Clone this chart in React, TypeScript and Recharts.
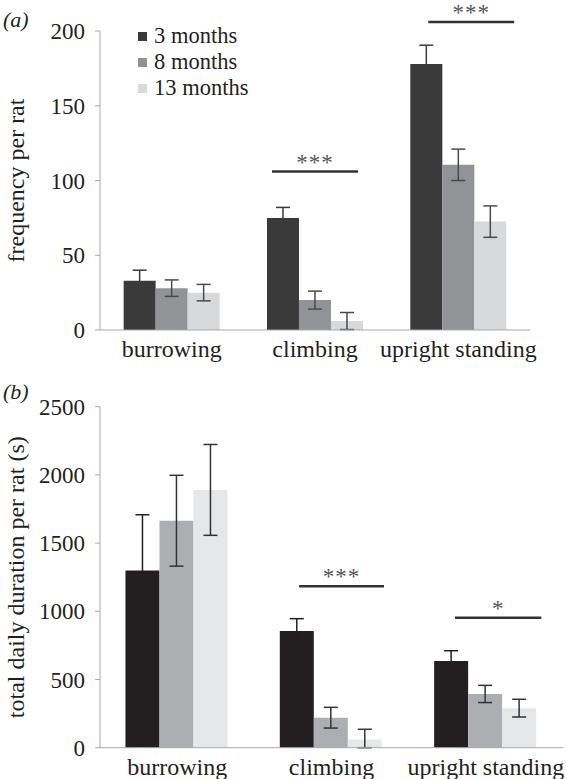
import React from "react";
import {
  BarChart,
  Bar,
  XAxis,
  YAxis,
  Legend,
  ErrorBar,
  ReferenceLine,
} from "recharts";

const categories = ["burrowing", "climbing", "upright standing"];

// (a) frequency per rat
const freq3 = [33, 75, 178];
const freq3Err = [7, 7, 12.5];
const freq8 = [28, 20, 110.5];
const freq8Err = [5.5, 6, 10.5];
const freq13 = [25, 6, 72.5];
const freq13Err = [5.5, 5.7, 10.5];

// (b) total daily duration per rat (s)
const dur3 = [1300, 855, 636];
const dur3Err = [408, 91, 75];
const dur8 = [1664, 220, 394];
const dur8Err = [333, 76, 63];
const dur13 = [1890, 61, 290];
const dur13Err = [333, 74, 65];

const freqTicks = [0, 50, 100, 150, 200];
const durTicks = [0, 500, 1000, 1500, 2000, 2500];

// significance bars: [from, to] in category units, height, label
const freqSig = [
  { x1: 1.2, x2: 1.8, y: 106, label: "***" },
  { x1: 2.29, x2: 2.89, y: 206, label: "***" },
];
const durSig = [
  { x1: 1.29, x2: 1.84, y: 1183, label: "***" },
  { x1: 2.3, x2: 2.86, y: 953, label: "*" },
];

const seriesNames = ["3 months", "8 months", "13 months"];

const buildRows = (vals: number[][], errs: number[][]) =>
  categories.map((cat, i) => {
    const row: any = { cat, pos: i + 0.5 };
    vals.forEach((v, k) => {
      row["s" + k] = v[i];
      row["e" + k] = [Math.min(errs[k][i], v[i]), errs[k][i]];
    });
    return row;
  });

const freqRows = buildRows([freq3, freq8, freq13], [freq3Err, freq8Err, freq13Err]);
const durRows = buildRows([dur3, dur8, dur13], [dur3Err, dur8Err, dur13Err]);

const FONT = "Liberation Serif";
const AXIS = "#a7a9ac";
const TEXT = "#231f20";

const LegendBox = ({ colors }: { colors: string[] }) => (
  <div style={{ fontFamily: FONT, fontSize: 22.5, lineHeight: "26px", color: TEXT }}>
    {seriesNames.map((n, k) => (
      <div key={n} style={{ display: "flex", alignItems: "center", whiteSpace: "nowrap" }}>
        <span style={{ width: 9, height: 9, background: colors[k], marginRight: 7, display: "inline-block" }} />
        {n}
      </div>
    ))}
  </div>
);

type PanelProps = {
  rows: any[];
  colors: string[];
  ticks: number[];
  yLabel: string;
  sig: { x1: number; x2: number; y: number; label: string }[];
  height: number;
  margin: any;
  xHeight: number;
  errColor: string;
  legend?: boolean;
};

const Panel = ({ rows, colors, ticks, yLabel, sig, height, margin, xHeight, errColor, legend }: PanelProps) => (
  <BarChart
    width={566}
    height={height}
    data={rows}
    margin={margin}
    barGap={0}
    barCategoryGap="16.5%"
    style={{ fontFamily: FONT }}
  >
    {/* numeric helper axis: category boundary ticks + significance bars */}
    <XAxis
      xAxisId={0}
      dataKey="pos"
      type="number"
      domain={[0, 3]}
      allowDataOverflow
      ticks={[0, 1, 2, 3]}
      tick={false}
      axisLine={false}
      tickLine={{ stroke: AXIS }}
      tickSize={5}
      height={0}
    />
    <XAxis
      xAxisId="cat"
      dataKey="cat"
      interval={0}
      height={xHeight}
      tickLine={false}
      tickMargin={4}
      axisLine={{ stroke: AXIS }}
      tick={{ fontSize: 24, fill: TEXT, fontFamily: FONT }}
    />
    <YAxis
      width={100}
      domain={[ticks[0], ticks[ticks.length - 1]]}
      ticks={ticks}
      interval={0}
      tickSize={5}
      tickMargin={10}
      axisLine={{ stroke: AXIS }}
      tickLine={{ stroke: AXIS }}
      tick={{ fontSize: 23, fill: TEXT, fontFamily: FONT }}
      label={{
        value: yLabel,
        angle: -90,
        position: "insideLeft",
        offset: 15,
        style: { textAnchor: "middle", fontSize: 24, fill: TEXT, fontFamily: FONT },
      }}
    />
    {legend && (
      <Legend
        layout="vertical"
        align="center"
        verticalAlign="middle"
        wrapperStyle={{ top: 23, left: 138, width: "auto" }}
        content={() => <LegendBox colors={colors} />}
      />
    )}
    {colors.map((c, k) => (
      <Bar
        key={k}
        xAxisId="cat"
        dataKey={"s" + k}
        name={seriesNames[k]}
        fill={c}
        isAnimationActive={false}
      >
        <ErrorBar
          dataKey={"e" + k}
          width={7}
          stroke={k === 0 ? c : errColor}
          strokeWidth={1.5}
          direction="y"
        />
      </Bar>
    ))}
    {sig.map((s, i) => (
      <ReferenceLine
        key={i}
        ifOverflow="visible"
        segment={[
          { x: s.x1, y: s.y },
          { x: s.x2, y: s.y },
        ]}
        stroke="#333"
        strokeWidth={2.5}
        label={{
          value: s.label,
          position: "top",
          offset: 2,
          fill: "#555",
          fontSize: 23,
          fontFamily: FONT,
          style: { fill: "#555", letterSpacing: 1 },
        }}
      />
    ))}
  </BarChart>
);

const tag: React.CSSProperties = {
  position: "absolute",
  left: 3,
  fontSize: 22,
  fontStyle: "italic",
  fontFamily: FONT,
  color: TEXT,
  lineHeight: "22px",
};

export default function App() {
  return (
    <div style={{ position: "absolute", left: 0, top: 0, width: 566, height: 779, background: "#fff", fontFamily: FONT, overflow: "hidden" }}>
      <div style={{ position: "absolute", left: 0, top: 0 }}>
        <Panel
          rows={freqRows}
          colors={["#3a3a3b", "#929396", "#d8d9db"]}
          ticks={freqTicks}
          yLabel="frequency per rat"
          sig={freqSig}
          height={372}
          margin={{ top: 31, right: 36, bottom: 0, left: 0 }}
          xHeight={42}
          errColor="#4a4a4a"
          legend
        />
      </div>
      <div style={{ position: "absolute", left: 0, top: 360 }}>
        <Panel
          rows={durRows}
          colors={["#231f20", "#adaeb1", "#e6e7e8"]}
          ticks={durTicks}
          yLabel="total daily duration per rat (s)"
          sig={durSig}
          height={419}
          margin={{ top: 46.7, right: 3, bottom: 0, left: 0 }}
          xHeight={31.3}
          errColor="#333"
        />
      </div>
      <div style={{ ...tag, top: 9 }}>(a)</div>
      <div style={{ ...tag, top: 381 }}>(b)</div>
    </div>
  );
}
